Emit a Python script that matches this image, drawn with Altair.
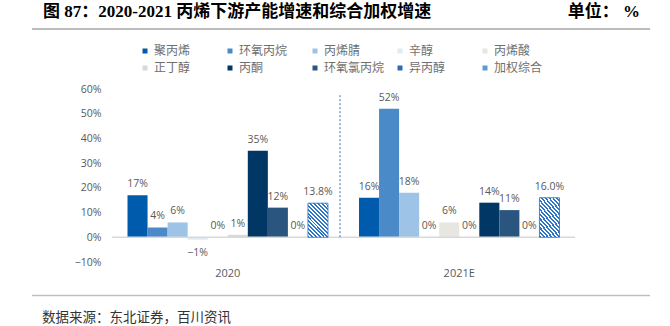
import altair as alt
import pandas as pd

# ---------------- data ----------------
years = ["2020", "2021E"]
products = ["聚丙烯", "环氧丙烷", "丙烯腈", "辛醇", "丙烯酸",
            "正丁醇", "丙酮", "环氧氯丙烷", "异丙醇", "加权综合"]
values_2020 = [17, 4, 6, -1, 0, 1, 35, 12, 0, 13.8]
values_2021 = [16, 52, 18, 0, 6, 0, 14, 11, 0, 16.0]
colors = ["#005BAC", "#4A8AC9", "#9DC3E6", "#DDEBF7", "#E7E6E1",
          "#D9D9D9", "#003764", "#2A557F", "#2E6DB4", "#5B9BD5"]
y_ticks = [-10, 0, 10, 20, 30, 40, 50, 60]
title_text = "图 87：2020-2021 丙烯下游产能增速和综合加权增速"
unit_text = "单位：  %"
source_text = "数据来源：东北证券，百川资讯"
weighted = "加权综合"

rows = []
for yr, vals in zip(years, [values_2020, values_2021]):
    for p, v in zip(products, vals):
        if p == weighted:
            lab = f"{v:.1f}%"
        else:
            lab = f"{v:.0f}%"
        rows.append({"year": yr, "product": p, "value": v,
                     "label": lab.replace("-", "−")})
df = pd.DataFrame(rows)

# hatch pattern as a striped gradient
hatch_blue = "#2E75C8"
N = 14
stops = []
for i in range(N):
    a, b, c = i / N, (i + 0.5) / N, (i + 1) / N
    stops += [{"offset": a, "color": hatch_blue}, {"offset": b, "color": hatch_blue},
              {"offset": b, "color": "#FFFFFF"}, {"offset": c, "color": "#FFFFFF"}]
hatch = {"gradient": "linear", "x1": 0, "y1": 1, "x2": 0.70, "y2": -0.18, "stops": stops}

num_font = "Open Sans"
cjk_font = "Noto Sans CJK SC"
gray = "#595959"

x_enc = alt.X("year:N",
              scale=alt.Scale(domain=years, paddingInner=0.134, paddingOuter=0.067),
              axis=alt.Axis(title=None, labelAngle=0, ticks=False, domain=False,
                            labelPadding=5, labelFontSize=11, labelColor=gray,
                            labelFont=num_font))
xo_enc = alt.XOffset("product:N",
                     scale=alt.Scale(domain=products, paddingInner=0, paddingOuter=0))
y_axis = alt.Axis(title=None, values=y_ticks, grid=False, ticks=False,
                  domain=False, labelPadding=11, labelFontSize=10.5,
                  labelColor=gray, labelFont=num_font,
                  labelOverlap=False, labelFlush=False,
                  labelExpr="replace(datum.value + '%', '-', '−')")
y_enc = alt.Y("value:Q", scale=alt.Scale(domain=[-10, 60], nice=False, zero=False),
              axis=y_axis)

base = alt.Chart(df).encode(x=x_enc, xOffset=xo_enc)

bars = base.mark_bar().encode(
    y=y_enc,
    color=alt.Color("product:N",
                    scale=alt.Scale(domain=products, range=colors),
                    legend=alt.Legend(title=None, orient="none", legendX=27, legendY=-44,
                                      direction="horizontal", columns=5,
                                      symbolType="square", symbolSize=25,
                                      symbolStrokeWidth=0, gridAlign="all",
                                      columnPadding=9, rowPadding=5, labelOffset=3,
                                      labelFont=cjk_font, labelFontSize=12,
                                      labelColor="#6F6F6F", padding=0)),
)

overlay = base.transform_filter(alt.datum.product == weighted).mark_bar(
    fill=hatch, stroke=hatch_blue, strokeWidth=0.8
).encode(y=y_enc)

labels_pos = base.transform_filter("datum.value >= 0").mark_text(
    dy=-11, baseline="middle", font=num_font, fontSize=10.5, color=gray
).encode(y=y_enc, text="label:N")

labels_neg = base.transform_filter("datum.value < 0").mark_text(
    dy=13, baseline="middle", font=num_font, fontSize=10.5, color=gray
).encode(y=y_enc, text="label:N")

zero_df = pd.DataFrame({"value": [0]})
sep_df = pd.DataFrame({"value": [57.5], "value2": [0]})

zero_line = alt.Chart(zero_df).mark_rule(color="#D9D9D9", strokeWidth=1.5).encode(
    y=y_enc)

sep = alt.Chart(sep_df).mark_rule(color="#2E75B6", strokeDash=[2, 2], strokeWidth=1).encode(
    x=alt.value(228), y=y_enc, y2="value2:Q")

one = pd.DataFrame({"k": [0]})

title_mark = alt.Chart(one).mark_text(
    align="left", baseline="middle", font="Liberation Serif, " + cjk_font,
    fontSize=17, fontWeight="bold", color="#000000"
).encode(x=alt.value(-69), y=alt.value(-77.5), text=alt.value(title_text))

unit_mark = alt.Chart(one).mark_text(
    align="right", baseline="middle", font="Liberation Serif, " + cjk_font,
    fontSize=17, fontWeight="bold", color="#000000"
).encode(x=alt.value(528), y=alt.value(-77.5), text=alt.value(unit_text))

top_line = alt.Chart(one).mark_rule(color="#A6A6A6", strokeWidth=1.5).encode(
    x=alt.value(-80), x2=alt.value(538), y=alt.value(-60))

bottom_line = alt.Chart(one).mark_rule(color="#BFBFBF", strokeWidth=1.5).encode(
    x=alt.value(-80), x2=alt.value(538), y=alt.value(206.5))

source_mark = alt.Chart(one).mark_text(
    align="left", baseline="middle", font=cjk_font, fontSize=13.5, color="#333333"
).encode(x=alt.value(-70), y=alt.value(228.5), text=alt.value(source_text))

chart = alt.layer(
    bars, zero_line, overlay, labels_pos, labels_neg, sep,
    title_mark, unit_mark, top_line, bottom_line, source_mark
).properties(
    width=463, height=173,
    padding={"left": 112, "top": 89, "right": 95, "bottom": 64},
    autosize=alt.AutoSizeParams(type="none"),
    background="white",
).configure_view(stroke=None).configure_axis(labelOverlap=False)

chart.save("out.html", embed_options={"renderer": "svg", "actions": False})
